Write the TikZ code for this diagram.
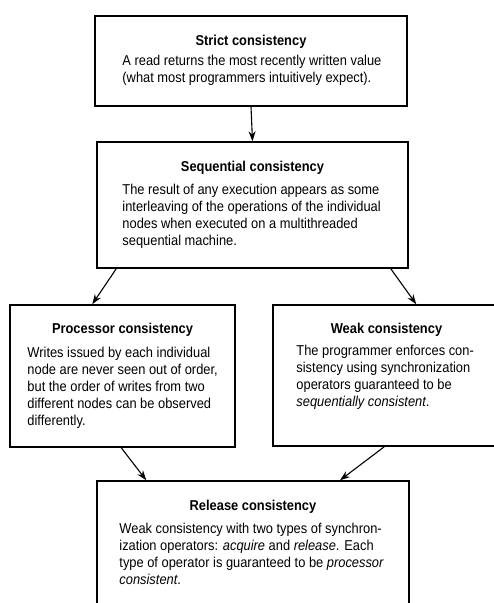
\documentclass[tikz,border=0pt]{standalone}
\usepackage{fontspec}
\setmainfont[FakeStretch=0.9]{Liberation Sans}
\usepackage{tikz}
\usetikzlibrary{positioning,arrows.meta}

\tikzset{
  frame/.style={draw, line width=1.5pt, inner sep=0pt},
  title/.style={anchor=base, inner sep=0pt, font=\fontsize{14.3}{17}\selectfont\bfseries},
  body/.style={anchor=north west, inner sep=0pt, align=left, font=\fontsize{14.3}{17}\selectfont},
  link/.style={-{Stealth[length=10pt,width=7pt]}, line width=1.1pt}
}

\begin{document}
\begin{tikzpicture}[x=1pt, y=-1pt]
    \useasboundingbox (0,0) rectangle (494,603);

    % Boxes
    \node [frame, minimum width=312, minimum height=90]  (strict) at (251,61) {};
    \node [frame, minimum width=311, minimum height=126] (seq)    at (252.5,205) {};
    \node [frame, minimum width=225, minimum height=142] (proc)   at (122.5,376) {};
    \node [frame, minimum width=227, minimum height=141] (weak)   at (386.5,375.5) {};
    \node [frame, minimum width=312, minimum height=159] (rel)    at (253,560.5) {};

    % Titles and texts
    \node [title] (strict-t) at ([yshift=-30]strict.north) {Strict consistency};
    \node [body] (strict-b) at ([xshift=28,yshift=-40]strict.north west)
        {A read returns the most recently written value\\(what most programmers intuitively expect).};

    \node [title] (seq-t) at ([yshift=-30]seq.north) {Sequential consistency};
    \node [body] (seq-b) at ([xshift=26,yshift=-43]seq.north west)
        {The result of any execution appears as some\\interleaving of the operations of the individual\\nodes when executed on a multithreaded\\sequential machine.};

    \node [title] (proc-t) at ([yshift=-29]proc.north) {Processor consistency};
    \node [body] (proc-b) at ([xshift=18,yshift=-43]proc.north west)
        {Writes issued by each individual\\node are never seen out of order,\\but the order of writes from two\\different nodes can be observed\\differently.};

    \node [title] (weak-t) at ([yshift=-29]weak.north) {Weak consistency};
    \node [body] (weak-b) at ([xshift=24,yshift=-41]weak.north west)
        {The programmer enforces con-\\sistency using synchronization\\operators guaranteed to be\\\textit{sequentially consistent}.};

    \node [title] (rel-t) at ([yshift=-30]rel.north) {Release consistency};
    \node [body] (rel-b) at ([xshift=23,yshift=-43]rel.north west)
        {Weak consistency with two types of synchron-\\ization operators: \textit{acquire} and \textit{release}. Each\\type of operator is guaranteed to be \textit{processor}\\\textit{consistent}.};

    % Arrows
    \draw [link] (strict.south) -- (seq.north);
    \draw [link] ([xshift=20]seq.south west) -- ([xshift=83]proc.north west);
    \draw [link] ([xshift=-18]seq.south east) -- ([xshift=144]weak.north west);
    \draw [link] ([xshift=112]proc.south west) -- ([xshift=50]rel.north west);
    \draw [link] ([xshift=112]weak.south west) -- ([xshift=87]rel.north);
\end{tikzpicture}
\end{document}
